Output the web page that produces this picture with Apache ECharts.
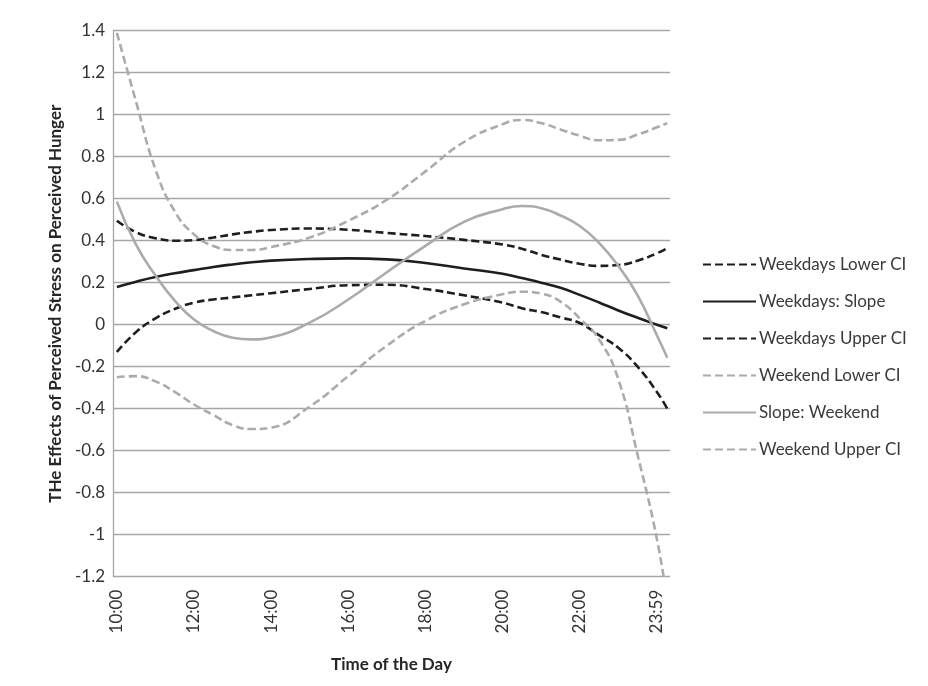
<!DOCTYPE html>
<html>
<head>
<meta charset="utf-8">
<script src="https://cdn.jsdelivr.net/npm/echarts@6/dist/echarts.min.js"></script>
<style>
html,body{margin:0;padding:0;background:#fff;}
#chart{width:928px;height:686px;}
</style>
</head>
<body>
<div id="chart"></div>
<script>
// Hours of the day at which the curves were read (24 = 23:59 tick)
var hours = [10, 10.5, 11, 11.5, 12, 12.5, 13, 13.5, 14, 15, 16, 17, 18, 19, 20, 20.5, 21, 21.5, 22, 22.5, 23, 23.5, 24, 24.27];

var weekdaysLowerCI = [-0.13, -0.035, 0.03, 0.075, 0.105, 0.12, 0.13, 0.14, 0.15, 0.17, 0.188, 0.19, 0.17, 0.14, 0.105, 0.078, 0.06, 0.035, 0.008, -0.05, -0.11, -0.2, -0.32, -0.40];
var weekdaysSlope   = [0.18, 0.205, 0.227, 0.245, 0.26, 0.275, 0.287, 0.297, 0.305, 0.313, 0.316, 0.311, 0.294, 0.268, 0.243, 0.222, 0.2, 0.176, 0.142, 0.106, 0.068, 0.033, 0.0, -0.017];
var weekdaysUpperCI = [0.495, 0.44, 0.412, 0.40, 0.403, 0.415, 0.43, 0.442, 0.451, 0.458, 0.452, 0.437, 0.422, 0.404, 0.382, 0.362, 0.333, 0.31, 0.29, 0.28, 0.284, 0.305, 0.34, 0.365];
var weekendLowerCI  = [-0.25, -0.245, -0.27, -0.32, -0.38, -0.43, -0.478, -0.497, -0.49, -0.39, -0.245, -0.1, 0.018, 0.097, 0.145, 0.157, 0.148, 0.11, 0.03, -0.07, -0.26, -0.62, -1.02, -1.32];
var weekendSlope    = [0.586, 0.38, 0.235, 0.115, 0.025, -0.03, -0.062, -0.07, -0.06, 0.01, 0.12, 0.25, 0.375, 0.49, 0.55, 0.565, 0.555, 0.52, 0.47, 0.39, 0.28, 0.14, -0.05, -0.157];
var weekendUpperCI  = [1.39, 1.06, 0.74, 0.54, 0.43, 0.375, 0.356, 0.356, 0.37, 0.415, 0.495, 0.595, 0.73, 0.87, 0.955, 0.975, 0.96, 0.93, 0.9, 0.878, 0.88, 0.905, 0.94, 0.96];

var tickHours  = [10, 12, 14, 16, 18, 20, 22, 24];
var tickLabels = ['10:00', '12:00', '14:00', '16:00', '18:00', '20:00', '22:00', '23:59'];

var seriesNames = ['Weekdays Lower CI', 'Weekdays: Slope', 'Weekdays Upper CI', 'Weekend Lower CI', 'Slope: Weekend', 'Weekend Upper CI'];

function pairs(vals) { return hours.map(function (h, i) { return [h, vals[i]]; }); }

var BLACK = '#1e1e1e', GRAY = '#ababab';
function mk(name, vals, color, type) {
  return {
    name: name, type: 'line', data: pairs(vals), smooth: 0.5,
    symbol: 'none', showSymbol: false, clip: true,
    lineStyle: { color: color, width: 2.6, type: type === 'dashed' ? [8, 4] : 'solid' },
    itemStyle: { color: color }
  };
}

var chart = echarts.init(document.getElementById('chart'), null, { renderer: 'canvas' });
var FONT = 'Lato, "Open Sans", "Liberation Sans", sans-serif';
chart.setOption({
  backgroundColor: '#fff',
  animation: false,
  textStyle: { fontFamily: FONT },
  grid: { left: 113, top: 30.7, right: 258, bottom: 109.3, containLabel: false },
  legend: {
    orient: 'vertical', left: 697, top: 251,
    itemWidth: 53, itemHeight: 16, itemGap: 20,
    itemStyle: { opacity: 0, borderWidth: 0 },
    textStyle: { fontSize: 17, color: '#3a3a3a', fontFamily: FONT, padding: [0, 0, 0, -2] },
    data: seriesNames
  },
  xAxis: {
    type: 'value', min: 9.9, max: 24.34,
    name: 'Time of the Day', nameLocation: 'middle', nameGap: 79,
    nameTextStyle: { fontSize: 17, fontWeight: 'bold', color: '#262626', fontFamily: FONT },
    axisLine: { show: false },
    axisTick: { show: false },
    splitLine: { show: false },
    axisLabel: {
      customValues: tickHours, rotate: 90, margin: 13,
      fontSize: 17, color: '#333', fontFamily: FONT,
      formatter: function (v) { var i = tickHours.indexOf(v); return i >= 0 ? tickLabels[i] : ''; }
    }
  },
  yAxis: {
    type: 'value', min: -1.2, max: 1.4, interval: 0.2,
    name: 'THe Effects of Perceived Stress on Perceived Hunger',
    nameLocation: 'middle', nameGap: 42, nameRotate: 90,
    nameTextStyle: { fontSize: 17, fontWeight: 'bold', color: '#262626', fontFamily: FONT },
    axisLine: { show: true, lineStyle: { color: '#a6a6a6', width: 1.3 } },
    axisTick: { show: false },
    splitLine: { show: true, lineStyle: { color: '#a6a6a6', width: 1.3 } },
    axisLabel: {
      margin: 8, fontSize: 17, color: '#333', fontFamily: FONT,
      formatter: function (v) { return String(+v.toFixed(1)); }
    }
  },
  series: [
    mk(seriesNames[0], weekdaysLowerCI, BLACK, 'dashed'),
    mk(seriesNames[1], weekdaysSlope, BLACK, 'solid'),
    mk(seriesNames[2], weekdaysUpperCI, BLACK, 'dashed'),
    mk(seriesNames[3], weekendLowerCI, GRAY, 'dashed'),
    mk(seriesNames[4], weekendSlope, GRAY, 'solid'),
    mk(seriesNames[5], weekendUpperCI, GRAY, 'dashed')
  ]
});
</script>
</body>
</html>
